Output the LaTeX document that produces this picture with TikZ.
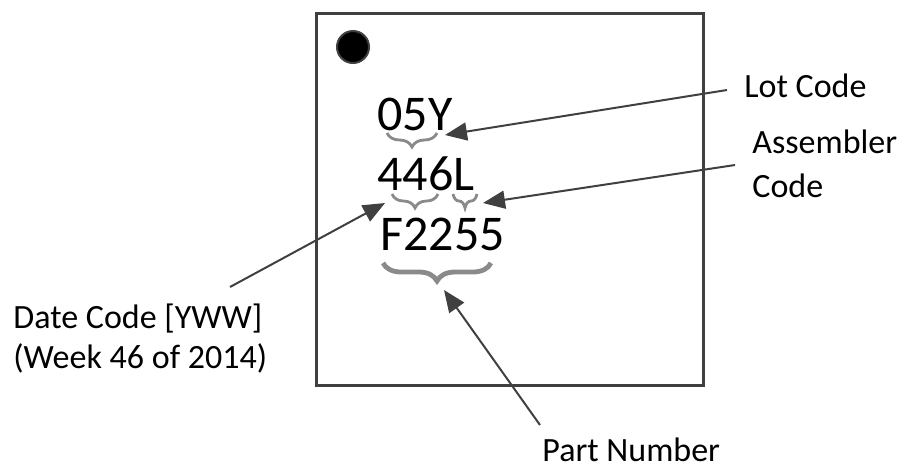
\documentclass[tikz,border=0pt]{standalone}
\usepackage{fontspec}
\setmainfont{Carlito}
\usetikzlibrary{arrows.meta,decorations.pathreplacing}
\definecolor{edgegray}{HTML}{404040}
\definecolor{bracegray}{HTML}{8A8A8A}
\begin{document}
\begin{tikzpicture}[x=0.5pt,y=-0.5pt,
  marking/.style={inner sep=0pt,anchor=base west,font=\fontsize{25}{30}\selectfont},
  callout/.style={inner sep=0pt,anchor=base west,align=left,
                  font=\fontsize{17}{20}\selectfont},
  pointer/.style={draw=edgegray,line width=1pt,
                  -{Triangle[length=11pt,width=9pt]}},
  grouping/.style={draw=bracegray,line width=1.4pt,
                   decorate,decoration={brace,mirror,amplitude=7pt}},
  grouping wide/.style={grouping,line width=2.4pt,
                   decoration={brace,mirror,amplitude=9pt}}]
\path[use as bounding box] (0,0) rectangle (907,468);
% package outline and pin-1 dot
\node[draw=edgegray,line width=1.5pt,minimum width=193.5pt,minimum height=186pt,
      inner sep=0pt] (chip) at (509.5,199) {};
\node[circle,fill=black,draw=edgegray,line width=1pt,minimum size=16pt,
      inner sep=0pt] (dot) at (353,47) {};
% marking lines
\node[marking] (rowA) at (377,130) {05Y};
\node[marking] (rowB) at (377,190) {446L};
\node[marking] (rowC) at (380,250) {F2255};
% braces
\draw[grouping] (387,133) -- (437,133);
\draw[grouping] (392,194) -- (438,194);
\draw[grouping] (453,194) -- (477,194);
\draw[grouping wide] (383,263) -- (491,263);
% callout texts (base = last line)
\node[callout] (lot) at (744,97) {Lot Code};
\node[callout] (asm) at (752,197) {Assembler\\[2pt]Code};
\node[callout] (date) at (13,368) {Date Code [YWW]\\(Week 46 of 2014)};
\node[callout] (part) at (542,461) {Part Number};
% arrow ends
\coordinate (lotS) at (727,90);   \coordinate (lotT) at (445,135);
\coordinate (asmS) at (735,165);  \coordinate (asmT) at (483,203);
\coordinate (dateS) at (230,287); \coordinate (dateT) at (385,203);
\coordinate (partS) at (540,425); \coordinate (partT) at (444,290);
\draw[pointer] (lotS) -- (lotT);
\draw[pointer] (asmS) -- (asmT);
\draw[pointer] (dateS) -- (dateT);
\draw[pointer] (partS) -- (partT);
\end{tikzpicture}
\end{document}
